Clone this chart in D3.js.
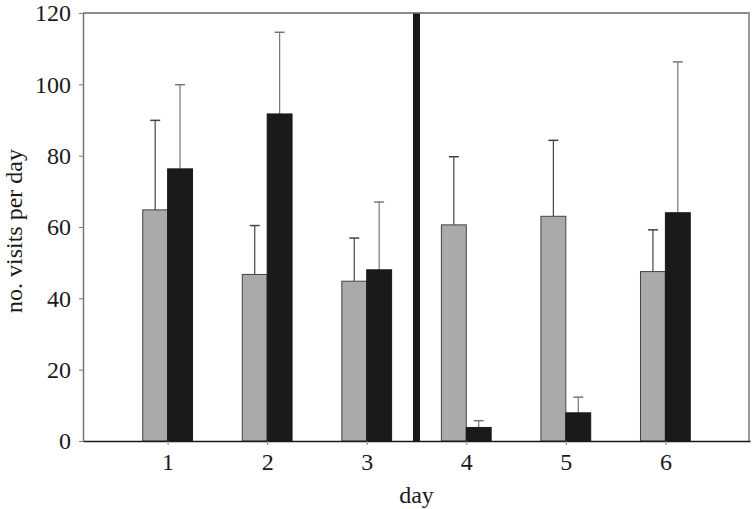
<!DOCTYPE html>
<html>
<head>
<meta charset="utf-8">
<script src="https://cdn.jsdelivr.net/npm/d3@7"></script>
<style>
    body { margin: 0; background: #fff; }
</style>
</head>
<body>
<div id="chart"></div>
<script>
// data
var days = [1, 2, 3, 4, 5, 6];
var greyMeans = [64.8, 46.7, 44.8, 60.6, 63.0, 47.5];
var greyErr = [25.1, 13.7, 12.1, 19.1, 21.3, 11.7];
var blackMeans = [76.3, 91.7, 48.0, 3.8, 7.9, 64.0];
var blackErr = [23.6, 22.9, 19.0, 1.9, 4.4, 42.3];
var yTicks = [0, 20, 40, 60, 80, 100, 120];
var dividerAt = 3.5;

var serif = '"Liberation Serif", "Times New Roman", Times, serif';
var width = 752, height = 509;
var margin = {top: 13, right: 2, bottom: 68, left: 83};

var svg = d3.select('#chart')
    .append('svg')
    .attr('width', width)
    .attr('height', height);

var x = d3.scaleLinear()
    .domain([0.15, 6.85])
    .range([margin.left, width - margin.right]);

var y = d3.scaleLinear()
    .domain([0, 120])
    .range([height - margin.bottom, margin.top]);

var barW = x(1.25) - x(1);

// series: grey bar left of the day, black bar right of it
var series = [
    {means: greyMeans, err: greyErr, fill: '#aaaaaa', stroke: '#444444', offset: -barW, errColor: '#444444'},
    {means: blackMeans, err: blackErr, fill: '#1a1a1a', stroke: '#1a1a1a', offset: 0, errColor: '#777777'}
];

series.forEach(function (s) {
    var g = svg.append('g');
    var rows = days.map(function (d, i) {
        return {day: d, mean: s.means[i], err: s.err[i]};
    });

    // error bars (upper only)
    g.selectAll('line.err')
        .data(rows)
        .enter()
        .append('line')
        .attr('x1', function (d) { return x(d.day) + s.offset + barW / 2; })
        .attr('x2', function (d) { return x(d.day) + s.offset + barW / 2; })
        .attr('y1', function (d) { return y(d.mean); })
        .attr('y2', function (d) { return y(d.mean + d.err); })
        .style('stroke', s.errColor)
        .style('stroke-width', 1.2);

    g.selectAll('line.cap')
        .data(rows)
        .enter()
        .append('line')
        .attr('x1', function (d) { return x(d.day) + s.offset + barW / 2 - 5; })
        .attr('x2', function (d) { return x(d.day) + s.offset + barW / 2 + 5; })
        .attr('y1', function (d) { return y(d.mean + d.err); })
        .attr('y2', function (d) { return y(d.mean + d.err); })
        .style('stroke', s.errColor)
        .style('stroke-width', 1.5);

    g.selectAll('rect')
        .data(rows)
        .enter()
        .append('rect')
        .attr('x', function (d) { return x(d.day) + s.offset; })
        .attr('y', function (d) { return y(d.mean); })
        .attr('width', barW)
        .attr('height', function (d) { return y(0) - y(d.mean); })
        .attr('fill', s.fill)
        .attr('stroke', s.stroke)
        .attr('stroke-width', 1);
});

// thick divider between day 3 and day 4
svg.append('line')
    .attr('x1', x(dividerAt))
    .attr('x2', x(dividerAt))
    .attr('y1', y(120))
    .attr('y2', y(0))
    .style('stroke', '#1a1a1a')
    .style('stroke-width', 7);

// frame: top and right
svg.append('line')
    .attr('x1', x.range()[0]).attr('x2', x.range()[1])
    .attr('y1', y(120)).attr('y2', y(120))
    .style('stroke', '#666666').style('stroke-width', 1.5);
svg.append('line')
    .attr('x1', x.range()[1] - 1).attr('x2', x.range()[1] - 1)
    .attr('y1', y(120)).attr('y2', y(0))
    .style('stroke', '#999999').style('stroke-width', 2);

// axes
var xAxis = svg.append('g')
    .attr('transform', 'translate(0,' + y(0) + ')')
    .call(d3.axisBottom(x).tickValues(days).tickFormat(d3.format('d')).tickSize(4).tickPadding(8).tickSizeOuter(0))
    .attr('font-family', serif)
    .attr('font-size', 24);
xAxis.select('.domain').style('stroke', '#1a1a1a').style('stroke-width', 1.5);
xAxis.selectAll('.tick line').style('stroke', '#888888');
xAxis.selectAll('.tick text').style('fill', '#1a1a1a');

var yAxis = svg.append('g')
    .attr('transform', 'translate(' + x.range()[0] + ',0)')
    .call(d3.axisLeft(y).tickValues(yTicks).tickSize(4).tickPadding(8).tickSizeOuter(0))
    .attr('font-family', serif)
    .attr('font-size', 24);
yAxis.select('.domain').style('stroke', '#777777').style('stroke-width', 1.5);
yAxis.selectAll('.tick line').style('stroke', '#777777');
yAxis.selectAll('.tick text').style('fill', '#1a1a1a');

// axis titles
svg.append('text')
    .attr('x', x(3.5))
    .attr('y', 503)
    .attr('text-anchor', 'middle')
    .attr('font-family', serif)
    .attr('font-size', 24)
    .style('fill', '#1a1a1a')
    .text('day');

svg.append('text')
    .attr('transform', 'translate(22,' + (y(60) + 4) + ') rotate(-90)')
    .attr('text-anchor', 'middle')
    .attr('font-family', serif)
    .attr('font-size', 24)
    .style('fill', '#1a1a1a')
    .text('no. visits per day');
</script>
</body>
</html>
